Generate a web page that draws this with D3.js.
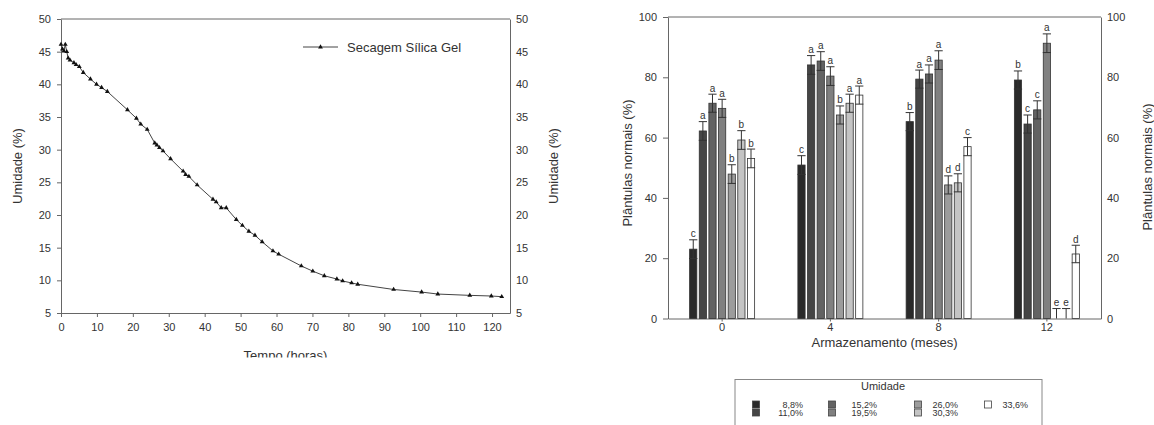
<!DOCTYPE html>
<html>
<head>
<meta charset="utf-8">
<script src="https://cdn.jsdelivr.net/npm/d3@7"></script>
<style>
  body { margin: 0; background: #fff; }
  svg { display: block; font-family: "Liberation Sans", Arial, sans-serif; }
  .axis text { fill: #333; font-size: 11px; }
  .axis path, .axis line { stroke: #666; }
</style>
</head>
<body>
<svg id="chart" width="1154" height="425"></svg>
<script>
// Drying curve (left panel)
const dryHours = [0, 0.4, 0.8, 1.2, 1.6, 2.0, 2.5, 3.6, 4.2, 5.1, 6.2, 8.2, 9.9, 11.3, 12.9,
  18.5, 21.0, 22.2, 24.0, 26.1, 26.7, 27.4, 28.4, 30.5, 34.0, 34.7, 35.6, 37.9,
  42.3, 43.2, 44.6, 46.0, 48.8, 50.5, 52.3, 54.0, 56.0, 59.0, 60.6, 66.9, 70.1,
  73.3, 76.8, 78.4, 80.9, 82.6, 92.6, 100.4, 104.9, 113.8, 119.8, 122.7];
const dryMoisture = [46.1, 45.4, 45.1, 46.1, 45.0, 44.0, 43.7, 43.3, 43.0, 42.7, 41.8, 40.8, 40.0, 39.5, 38.9,
  36.1, 34.8, 33.9, 33.1, 31.0, 30.7, 30.3, 29.8, 28.6, 26.7, 26.2, 25.9, 24.6,
  22.4, 22.0, 21.1, 21.1, 19.3, 18.4, 17.5, 16.9, 15.9, 14.5, 14.0, 12.2, 11.4,
  10.7, 10.2, 9.9, 9.6, 9.4, 8.6, 8.2, 7.9, 7.7, 7.6, 7.5];
const hourTicks = [0, 10, 20, 30, 40, 50, 60, 70, 80, 90, 100, 110, 120];
const moistureTicks = [5, 10, 15, 20, 25, 30, 35, 40, 45, 50];

// Storage experiment (right panel)
const months = ['0', '4', '8', '12'];
const moistureLevels = ['8,8%', '11,0%', '15,2%', '19,5%', '26,0%', '30,3%', '33,6%'];
const levelColors = ['#2a2a2a', '#454545', '#636363', '#808080', '#9c9c9c', '#c4c4c4', '#ffffff'];
const seedlings = [
  [23, 62.2, 71.4, 69.7, 47.9, 59.2, 53.1],
  [50.9, 84.1, 85.4, 80.4, 67.5, 71.4, 74.1],
  [65.3, 79.4, 81.1, 85.7, 44.3, 45.0, 57.0],
  [79.1, 64.5, 69.2, 91.3, 0, 0, 21.4]
];
const seedlingErr = [
  [3.1, 3.1, 3.0, 3.0, 3.1, 3.1, 3.1],
  [3.1, 3.1, 3.1, 3.1, 3.0, 3.0, 3.0],
  [3.0, 3.0, 3.0, 3.1, 3.0, 3.0, 3.0],
  [3.0, 3.0, 3.0, 3.1, 3.3, 3.3, 2.9]
];
const letters = [
  ['c', 'a', 'a', 'a', 'b', 'b', 'b'],
  ['c', 'a', 'a', 'a', 'b', 'a', 'a'],
  ['b', 'a', 'a', 'a', 'd', 'd', 'c'],
  ['b', 'c', 'c', 'a', 'e', 'e', 'd']
];
const seedlingTicks = [0, 20, 40, 60, 80, 100];

const svg = d3.select('#chart');

// ---------- left panel ----------
const L = { left: 61, right: 510, top: 19, bottom: 313 };
const xL = d3.scaleLinear().domain([0, 125]).range([L.left, L.right]);
const yL = d3.scaleLinear().domain([5, 50]).range([L.bottom, L.top]);

svg.append('g').attr('class', 'axis')
  .attr('transform', `translate(0,${L.bottom})`)
  .call(d3.axisBottom(xL).tickValues(hourTicks).tickSize(4).tickPadding(6).tickSizeOuter(0));
svg.append('g').attr('class', 'axis')
  .attr('transform', `translate(${L.left},0)`)
  .call(d3.axisLeft(yL).tickValues(moistureTicks).tickSize(4).tickPadding(6).tickSizeOuter(0));
svg.append('g').attr('class', 'axis')
  .attr('transform', `translate(${L.right},0)`)
  .call(d3.axisRight(yL).tickValues(moistureTicks).tickSize(0).tickPadding(6).tickSizeOuter(0));
svg.append('line').attr('x1', L.left).attr('x2', L.right).attr('y1', L.top).attr('y2', L.top)
  .attr('stroke', '#666');

const dryPts = dryHours.map((h, i) => [h, dryMoisture[i]]);
svg.append('path')
  .datum(dryPts)
  .attr('fill', 'none')
  .attr('stroke', '#444')
  .attr('stroke-width', 1)
  .attr('d', d3.line().x(d => xL(d[0])).y(d => yL(d[1])));

const tri = d3.symbol().type(d3.symbolTriangle).size(10);
svg.append('g').selectAll('path')
  .data(dryPts)
  .join('path')
  .attr('transform', d => `translate(${xL(d[0])},${yL(d[1])})`)
  .attr('d', tri)
  .attr('fill', '#111');

// legend
svg.append('line').attr('x1', 303).attr('x2', 338).attr('y1', 47).attr('y2', 47).attr('stroke', '#444');
svg.append('path').attr('transform', 'translate(320.5,47)').attr('d', tri).attr('fill', '#111');
svg.append('text').attr('x', 347).attr('y', 52).attr('font-size', 13).attr('fill', '#333')
  .text('Secagem Sílica Gel');

svg.append('text').attr('transform', 'translate(22,166) rotate(-90)')
  .attr('text-anchor', 'middle').attr('font-size', 13).attr('fill', '#333').text('Umidade (%)');
svg.append('text').attr('transform', 'translate(558,166) rotate(-90)')
  .attr('text-anchor', 'middle').attr('font-size', 13).attr('fill', '#333').text('Umidade (%)');

// x title is cut off at the bottom in the original
svg.append('clipPath').attr('id', 'cutL')
  .append('rect').attr('x', 0).attr('y', 0).attr('width', 560).attr('height', 357.5);
svg.append('text').attr('x', (L.left + L.right) / 2).attr('y', 360)
  .attr('clip-path', 'url(#cutL)')
  .attr('text-anchor', 'middle').attr('font-size', 13).attr('fill', '#333').text('Tempo (horas)');

// ---------- right panel ----------
const R = { left: 668, right: 1101, top: 17, bottom: 318.5 };
const xR = d3.scaleBand().domain(months).range([R.left, R.right]).padding(0);
const xInner = d3.scaleBand().domain(moistureLevels).range([-32.5, 32.5]).paddingInner(0.25);
const yR = d3.scaleLinear().domain([0, 100]).range([R.bottom, R.top]);

svg.append('g').attr('class', 'axis')
  .attr('transform', `translate(0,${R.bottom})`)
  .call(d3.axisBottom(xR).tickSize(3).tickPadding(2).tickSizeOuter(0));
svg.append('g').attr('class', 'axis')
  .attr('transform', `translate(${R.left},0)`)
  .call(d3.axisLeft(yR).tickValues(seedlingTicks).tickSize(5).tickPadding(6).tickSizeOuter(0));
svg.append('g').attr('class', 'axis')
  .attr('transform', `translate(${R.right},0)`)
  .call(d3.axisRight(yR).tickValues(seedlingTicks).tickSize(0).tickPadding(6).tickSizeOuter(0));
svg.append('line').attr('x1', R.left).attr('x2', R.right).attr('y1', R.top).attr('y2', R.top)
  .attr('stroke', '#666');

const bars = [];
months.forEach((m, gi) => {
  moistureLevels.forEach((lv, si) => {
    bars.push({ m, lv, si, v: seedlings[gi][si], e: seedlingErr[gi][si], t: letters[gi][si] });
  });
});
const bx = d => xR(d.m) + xR.bandwidth() / 2 + xInner(d.lv);
const bw = xInner.bandwidth();

svg.append('g').selectAll('rect')
  .data(bars.filter(d => d.v > 0))
  .join('rect')
  .attr('x', bx)
  .attr('y', d => yR(d.v))
  .attr('width', bw)
  .attr('height', d => yR(0) - yR(d.v))
  .attr('fill', d => levelColors[d.si])
  .attr('stroke', '#333')
  .attr('stroke-width', 0.8);

const eb = svg.append('g').attr('stroke', '#333').attr('stroke-width', 1)
  .selectAll('g').data(bars).join('g');
eb.append('line')
  .attr('x1', d => bx(d) + bw / 2).attr('x2', d => bx(d) + bw / 2)
  .attr('y1', d => yR(Math.max(0, d.v - d.e))).attr('y2', d => yR(d.v + d.e));
eb.append('line')
  .attr('x1', d => bx(d) - 0.5).attr('x2', d => bx(d) + bw + 0.5)
  .attr('y1', d => yR(d.v + d.e)).attr('y2', d => yR(d.v + d.e));
eb.filter(d => d.v - d.e > 0).append('line')
  .attr('x1', d => bx(d) - 0.5).attr('x2', d => bx(d) + bw + 0.5)
  .attr('y1', d => yR(d.v - d.e)).attr('y2', d => yR(d.v - d.e));

svg.append('g').selectAll('text')
  .data(bars)
  .join('text')
  .attr('x', d => bx(d) + bw / 2)
  .attr('y', d => yR(d.v + d.e) - 2.5)
  .attr('text-anchor', 'middle')
  .attr('font-size', 10)
  .attr('fill', '#333')
  .text(d => d.t);

svg.append('text').attr('transform', 'translate(632,163) rotate(-90)')
  .attr('text-anchor', 'middle').attr('font-size', 13).attr('fill', '#333').text('Plântulas normais (%)');
svg.append('text').attr('transform', 'translate(1152,167) rotate(-90)')
  .attr('text-anchor', 'middle').attr('font-size', 13).attr('fill', '#333').text('Plântulas normais (%)');
svg.append('text').attr('x', (R.left + R.right) / 2).attr('y', 347)
  .attr('text-anchor', 'middle').attr('font-size', 13).attr('fill', '#333').text('Armazenamento (meses)');

// legend box
const lg = svg.append('g');
lg.append('rect').attr('x', 735).attr('y', 379.5).attr('width', 307).attr('height', 60)
  .attr('fill', 'none').attr('stroke', '#888');
lg.append('text').attr('x', 883).attr('y', 389.5).attr('text-anchor', 'middle')
  .attr('font-size', 11).attr('fill', '#333').text('Umidade');
const colX = [756, 832, 918, 988];
const colEnd = [803, 877, 958, 1028];
const item = lg.selectAll('g.item')
  .data(moistureLevels)
  .join('g').attr('class', 'item');
item.append('rect')
  .attr('x', (d, i) => colX[Math.floor(i / 2)] - 3.5)
  .attr('y', (d, i) => (i % 2 ? 412.5 : 404.5) - 3.5)
  .attr('width', 7).attr('height', 7)
  .attr('fill', (d, i) => levelColors[i])
  .attr('stroke', '#444').attr('stroke-width', 0.8);
item.append('text')
  .attr('x', (d, i) => colEnd[Math.floor(i / 2)])
  .attr('y', (d, i) => (i % 2 ? 412.5 : 404.5) + 3)
  .attr('text-anchor', 'end')
  .attr('font-size', 9)
  .attr('fill', '#333')
  .text(d => d);
</script>
</body>
</html>
